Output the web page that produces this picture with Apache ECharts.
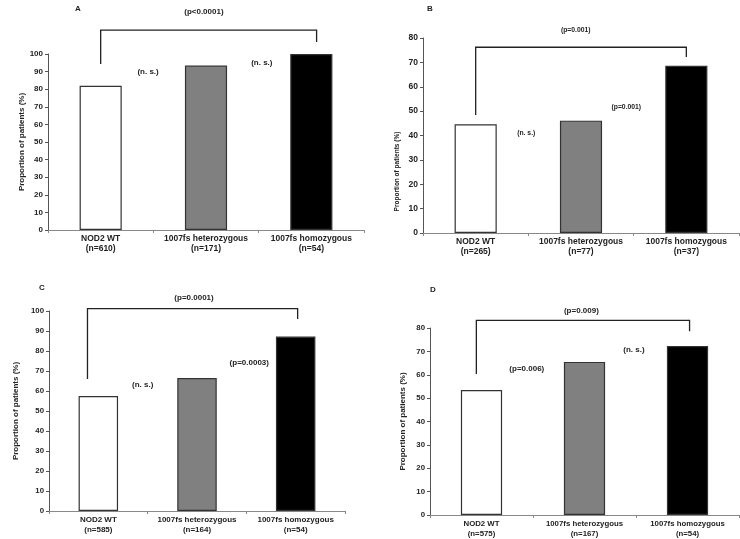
<!DOCTYPE html>
<html><head><meta charset="utf-8">
<script src="https://cdn.jsdelivr.net/npm/echarts@6/dist/echarts.min.js"></script>
<style>html,body{margin:0;padding:0;background:#fff}#c{width:740px;height:539px}</style>
</head><body><div id="c"></div>
<script>
// ---------- data ----------
const categoriesA = ['NOD2 WT\n(n=610)', '1007fs heterozygous\n(n=171)', '1007fs homozygous\n(n=54)'];
const categoriesB = ['NOD2 WT\n(n=265)', '1007fs heterozygous\n(n=77)', '1007fs homozygous\n(n=37)'];
const categoriesC = ['NOD2 WT\n(n=585)', '1007fs heterozygous\n(n=164)', '1007fs homozygous\n(n=54)'];
const categoriesD = ['NOD2 WT\n(n=575)', '1007fs heterozygous\n(n=167)', '1007fs homozygous\n(n=54)'];

const valuesA = [82, 93.4, 100];
const valuesB = [44.6, 46.1, 68.6];
const valuesC = [57.5, 66.5, 87.2];
const valuesD = [53.5, 65.5, 72.3];

const yMaxA = 100, yMaxB = 80, yMaxC = 100, yMaxD = 80;
const yStep = 10;

const panelLetters = ['A', 'B', 'C', 'D'];
const yTitle = 'Proportion of patients (%)';

// brackets: [xLeft, xRight, yTop, yLeftEnd, yRightEnd] (x in category units)
const bracketA = [0, 2.05, 113.6, 94.3, 106.8];
const bracketB = [0, 2.0, 76.2, 48.4, 72.2];
const bracketC = [-0.11, 2.02, 101.2, 66, 96];
const bracketD = [-0.05, 2.02, 83.3, 60.3, 78.6];

// annotations: [x, y, text]
const notesA = [[0.98, 123.9, '(p<0.0001)'], [0.45, 89.8, '(n. s.)'], [1.53, 94.9, '(n. s.)']];
const notesB = [[0.95, 83.3, '(p=0.001)'], [1.43, 51.7, '(p=0.001)'], [0.48, 41, '(n. s.)']];
const notesC = [[0.97, 106.5, '(p=0.0001)'], [1.53, 74.3, '(p=0.0003)'], [0.45, 63, '(n. s.)']];
const notesD = [[0.97, 87.5, '(p=0.009)'], [0.44, 62.4, '(p=0.006)'], [1.48, 70.5, '(n. s.)']];

// ---------- styling / layout ----------
const FONT = 'Liberation Sans, Arial, sans-serif';
const barColors = ['#ffffff', '#808080', '#000000'];
const panels = [
  {cats: categoriesA, vals: valuesA, max: yMaxA, bracket: bracketA, notes: notesA,
   grid: {left: 48, top: 54, width: 316, height: 176}, tickFs: 8, catFs: 8.5, noteFs: 8, nameFs: 8, nameGap: 19, namePad: [0,0,0,0],
   letter: {left: 70, top: 0}},
  {cats: categoriesB, vals: valuesB, max: yMaxB, bracket: bracketB, notes: notesB,
   grid: {left: 423, top: 38, width: 316, height: 195}, tickFs: 8.5, catFs: 8.5, noteFs: 6.8, nameFs: 6.5, nameGap: 22, namePad: [0,72,0,0],
   letter: {left: 422, top: 0}},
  {cats: categoriesC, vals: valuesC, max: yMaxC, bracket: bracketC, notes: notesC,
   grid: {left: 49, top: 311, width: 296, height: 200}, tickFs: 7.8, catFs: 8, noteFs: 8, nameFs: 8, nameGap: 29, namePad: [0,0,0,0],
   letter: {left: 34, top: 279}},
  {cats: categoriesD, vals: valuesD, max: yMaxD, bracket: bracketD, notes: notesD,
   grid: {left: 430, top: 328, width: 309, height: 188}, tickFs: 7.8, catFs: 7.8, noteFs: 8, nameFs: 8, nameGap: 23, namePad: [0,0,0,0],
   letter: {left: 425, top: 281}}
];

const option = {
  animation: false,
  backgroundColor: '#fff',
  textStyle: {fontFamily: FONT},
  title: panels.map((p, i) => ({
    text: panelLetters[i], left: p.letter.left, top: p.letter.top,
    textStyle: {fontSize: 8, fontWeight: 'bold', color: '#222', fontFamily: FONT}
  })),
  grid: panels.map(p => Object.assign({containLabel: false}, p.grid)),
  xAxis: [],
  yAxis: [],
  series: []
};

panels.forEach((p, i) => {
  // visible category axis
  option.xAxis.push({
    type: 'category', gridIndex: i, data: p.cats,
    axisLine: {onZero: false, lineStyle: {color: '#888', width: 1}},
    axisTick: {show: true, alignWithLabel: false, length: 3, lineStyle: {color: '#888'}},
    axisLabel: {fontSize: p.catFs, fontWeight: 'bold', color: '#222', lineHeight: 10, margin: 4, interval: 0, fontFamily: FONT}
  });
  // hidden value axis for annotations
  option.xAxis.push({
    type: 'value', gridIndex: i, min: -0.5, max: 2.5, show: false,
    axisLine: {onZero: false}
  });
  option.yAxis.push({
    type: 'value', gridIndex: i, min: 0, max: p.max, interval: yStep,
    name: yTitle, nameLocation: 'middle', nameRotate: 90, nameGap: p.nameGap,
    nameTextStyle: {fontSize: p.nameFs, fontWeight: 'bold', color: '#222', padding: p.namePad, fontFamily: FONT},
    axisLine: {show: true, onZero: false, lineStyle: {color: '#555', width: 1}},
    axisTick: {show: true, length: 3, lineStyle: {color: '#555'}},
    axisLabel: {fontSize: p.tickFs, fontWeight: 'bold', color: '#222', margin: 5, fontFamily: FONT},
    splitLine: {show: false}
  });
  option.series.push({
    type: 'bar', xAxisIndex: i * 2, yAxisIndex: i, barWidth: '40%',
    data: p.vals.map((v, k) => ({value: v, itemStyle: {color: barColors[k], borderColor: '#333', borderWidth: 1.2}}))
  });
  option.series.push({
    type: 'custom', xAxisIndex: i * 2 + 1, yAxisIndex: i, clip: false, silent: true,
    data: [p.bracket],
    renderItem: (params, api) => {
      const a = api.coord([api.value(0), api.value(3)]);
      const b = api.coord([api.value(0), api.value(2)]);
      const c = api.coord([api.value(1), api.value(2)]);
      const d = api.coord([api.value(1), api.value(4)]);
      return {type: 'polyline', shape: {points: [a, b, c, d]},
        style: {stroke: '#222', lineWidth: 1.3, fill: null}};
    }
  });
  option.series.push({
    type: 'custom', xAxisIndex: i * 2 + 1, yAxisIndex: i, clip: false, silent: true,
    data: p.notes.map(n => [n[0], n[1]]),
    renderItem: (params, api) => {
      const pt = api.coord([api.value(0), api.value(1)]);
      return {type: 'text', x: pt[0], y: pt[1],
        style: {text: p.notes[params.dataIndex][2], textAlign: 'center', textVerticalAlign: 'middle',
          fontSize: p.noteFs, fontWeight: 'bold', fill: '#222', fontFamily: FONT}};
    }
  });
});

const chart = echarts.init(document.getElementById('c'), null, {renderer: 'canvas'});
chart.setOption(option);
</script>
</body></html>
